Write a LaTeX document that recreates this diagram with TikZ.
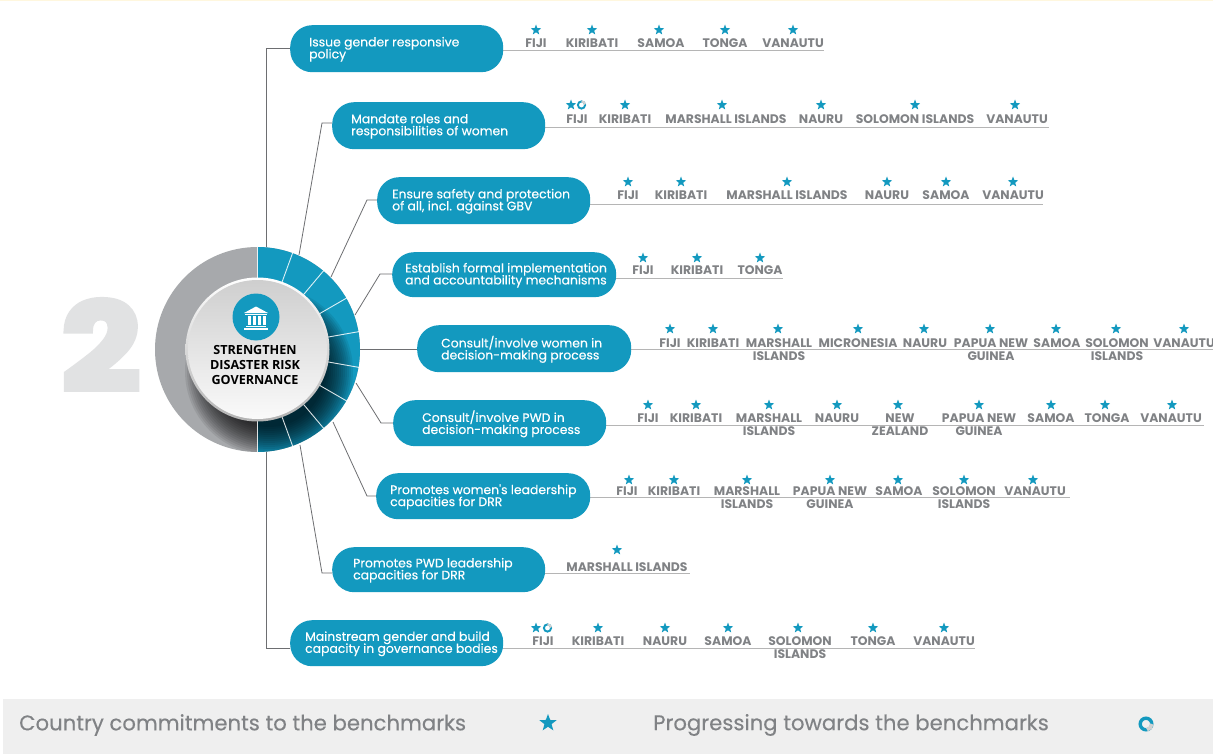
\documentclass[tikz,border=0pt]{standalone}
\usepackage{fontspec}
\setmainfont{Poppins}
\newfontfamily\ptextfont[FakeBold=0.25]{Poppins}
\newfontfamily\ctrfont{Open Sans}
\newfontfamily\bigfont[FakeBold=5]{Poppins Bold}
\usetikzlibrary{shapes.geometric}
\definecolor{tealb}{HTML}{1399BF}
\definecolor{ringg}{HTML}{A7A9AC}
\definecolor{lbl}{HTML}{808285}
\definecolor{conn}{HTML}{6D6E71}
\definecolor{rule}{HTML}{B5B5B5}
\definecolor{strip}{HTML}{EFEFEF}
\newcommand{\pillfont}{\ptextfont\fontsize{12.4}{12}\selectfont\setlength{\lineskiplimit}{-20pt}}
\newcommand{\ctryfont}{\bfseries\fontsize{12.4}{12.6}\selectfont\setlength{\lineskiplimit}{-20pt}}
\tikzset{
  x=1pt,y=1pt,
  pill/.style={fill=tealb,rounded corners=22pt,inner sep=0pt},
  pilltext/.style={text=white,font=\pillfont,align=left,inner sep=0pt,anchor=west},
  country/.style={text=lbl,font=\ctryfont,align=center,inner sep=0pt,anchor=north},
  starmark/.style={star,star points=5,star point ratio=2.4,fill=tealb,inner sep=0pt,minimum size=11pt},
  connector/.style={draw=conn,line width=.8pt},
  baseline rule/.style={draw=rule,line width=1pt},
  legendtext/.style={text=lbl,font=\ptextfont\fontsize{21.2}{24}\selectfont,inner sep=0pt,anchor=west},
}
\newcommand{\PillRow}[9]{%
  \coordinate (e#1) at (#8,-#9);
  \draw[baseline rule] (#3,-#9) -- (e#1);
  \node[pill,anchor=north west,minimum width={#3-#2},minimum height={#5-#4}] (p#1) at (#2,-#4) {};
  \node[pilltext] (t#1) at (#6,{-(#4+#5)/2-0.8}) {#7};
}
\newcommand{\Countries}[4]{%
  \foreach \lx/\sx/\nm [count=\i] in {#4} {
    \node[starmark] (s#1-\i) at (\sx,-#2) {};
    \node[country] (l#1-\i) at (\lx,{-(#3-5.6)}) {\rule{0pt}{10pt}\nm};
  }
}
\newcommand{\Progress}[5]{% x y radius width grey-start
  \draw[tealb,line width=#4pt] (#1,-#2) circle[radius=#3pt];
  \draw[black!18,line width=#4pt] ([shift={(#5:#3pt)}]#1,-#2) arc[start angle=#5,delta angle=-80,radius=#3pt];
}
\begin{document}
\begin{tikzpicture}
\useasboundingbox (0,0) rectangle (1213,-754);
\fill[white] (0,0) rectangle (1213,-754);
\fill[yellow!60!orange!12] (0,0) rectangle (1213,-1);

% big numeral
\node[inner sep=0pt] (num) at (101,-345) {\resizebox{78pt}{90pt}{\bigfont\textcolor[HTML]{E1E2E3}{2}}};

% hub anchor points
\coordinate (hub) at (257.5,-349.5);
\coordinate (h1) at (266,-247);
\coordinate (h2) at (299,-255);
\coordinate (h3) at (331,-277);
\coordinate (h4) at (355,-315);
\coordinate (h5) at (360,-349);
\coordinate (h6) at (356,-383);
\coordinate (h7) at (333,-422);
\coordinate (h8) at (300,-445);
\coordinate (h9) at (266,-452);
\coordinate (b1) at (266,-48);
\coordinate (b2) at (322,-123);
\coordinate (b3) at (367,-200);
\coordinate (b4) at (380,-274);
\coordinate (b6) at (381,-423);
\coordinate (b7) at (367,-496);
\coordinate (b8) at (322,-573);
\coordinate (b9) at (266,-648);

% rows
\PillRow{1}{290}{503}{25}{72}{309}{Issue gender responsive\\policy}{824}{51}
\PillRow{2}{332}{545}{102}{149}{351}{Mandate roles and\\responsibilities of women}{1049}{128}
\PillRow{3}{377}{590}{177}{224}{392}{Ensure safety and protection\\of all, incl. against GBV}{1043}{205}
\PillRow{4}{392}{616}{252}{297}{405}{Establish formal implementation\\and accountability mechanisms}{783}{278}
\PillRow{5}{417}{631}{325}{372}{441}{Consult/involve women in\\decision-making process}{1213}{349}
\PillRow{6}{393}{606}{400}{446}{422}{Consult/involve PWD in\\decision-making process}{1204}{425}
\PillRow{7}{376}{590}{473}{519}{390}{Promotes women's leadership\\capacities for DRR}{1070}{497}
\PillRow{8}{332}{545}{547}{592}{353}{Promotes PWD leadership\\capacities for DRR}{690}{573}
\PillRow{9}{290}{503}{620}{666}{305}{Mainstream gender and build\\capacity in governance bodies}{975}{648}

% connectors
\draw[connector] (h1) -- (b1) -- (p1.west |- b1);
\draw[connector] (h2) -- (b2) -- (p2.west |- b2);
\draw[connector] (h3) -- (b3) -- (p3.west |- b3);
\draw[connector] (h4) -- (b4) -- (p4.west |- b4);
\draw[connector] (h5) -- (p5.west |- h5);
\draw[connector] (h6) -- (b6) -- (p6.west |- b6);
\draw[connector] (h7) -- (b7) -- (p7.west |- b7);
\draw[connector] (h8) -- (b8) -- (p8.west |- b8);
\draw[connector] (h9) -- (b9) -- (p9.west |- b9);

% hub ring
\fill[ringg] (hub) circle[radius=102.5pt];
\fill[tealb] (257.5,-247) arc[start angle=90,end angle=-90,radius=102.5pt] -- cycle;
\begin{scope}
  \clip (hub) circle[radius=102.5pt];
  \foreach \r in {84,82,...,56} {
    \fill[black,opacity=.08] (269,-371) circle[radius=\r pt];
  }
\end{scope}
\foreach \a in {90,70,50,30,10,-10,-30,-50,-70,-90} {
  \draw[white,line width=.9pt,opacity=.85] (hub) ++(\a:70pt) -- ++(\a:33pt);
}
% centre disc
\shade[top color=white,bottom color=black!30] (hub) circle[radius=72pt];
\shade[top color=black!19,bottom color=black!2] (hub) circle[radius=69.5pt];
\fill[tealb] (256,-317) circle[radius=23.5pt];
% temple icon
\fill[white] (256,-306.5) -- (268,-313) -- (244,-313) -- cycle;
\fill[white] (245,-313.5) rectangle (267,-315);
\foreach \cx in {248,253,258,263} { \fill[white] (\cx,-315.5) rectangle (\cx+2.6,-325); }
\fill[white] (246,-325.5) rectangle (266,-327);
\fill[white] (244,-327.5) rectangle (268,-329.5);
\node[inner sep=0pt,align=center,text=black,font=\ctrfont\bfseries\fontsize{12.6}{15.3}\selectfont] (hubtext) at (255,-365) {STRENGTHEN\\DISASTER RISK\\GOVERNANCE};

% countries
\Countries{1}{30}{43}{536/536/FIJI,592/592/KIRIBATI,661/659/SAMOA,725/725/TONGA,793/793/VANAUTU}
\Countries{2}{105}{119}{577/571/FIJI,625/625/KIRIBATI,726/722/MARSHALL ISLANDS,821/821/NAURU,915/915/SOLOMON ISLANDS,1017/1015/VANAUTU}
\Countries{3}{182}{195}{628/628/FIJI,681/681/KIRIBATI,787/787/MARSHALL ISLANDS,887/887/NAURU,946/946/SAMOA,1013/1013/VANAUTU}
\Countries{4}{258}{270}{643/643/FIJI,697/697/KIRIBATI,760/760/TONGA}
\Countries{5}{329}{343}{670/670/FIJI,713/713/KIRIBATI,779/778/{MARSHALL\\ISLANDS},858/858/MICRONESIA,925/924/NAURU,991/990/{PAPUA NEW\\GUINEA},1057/1056/SAMOA,1117/1116/{SOLOMON\\ISLANDS},1184/1184/VANAUTU}
\Countries{6}{405}{418}{648/648/FIJI,696/696/KIRIBATI,769/769/{MARSHALL\\ISLANDS},837/837/NAURU,900/898/{NEW\\ZEALAND},979/979/{PAPUA NEW\\GUINEA},1051/1051/SAMOA,1107/1105/TONGA,1171/1172/VANAUTU}
\Countries{7}{480}{491}{627/629/FIJI,674/674/KIRIBATI,747/747/{MARSHALL\\ISLANDS},830/830/{PAPUA NEW\\GUINEA},899/898/SAMOA,964/964/{SOLOMON\\ISLANDS},1035/1033/VANAUTU}
\Countries{8}{550}{567}{627/617/MARSHALL ISLANDS}
\Countries{9}{628}{641}{543/536/FIJI,598/598/KIRIBATI,665/665/NAURU,728/728/SAMOA,800/798/{SOLOMON\\ISLANDS},873/873/TONGA,944/944/VANAUTU}
\Progress{581.5}{105}{3.6}{1.9}{90}
\Progress{547.5}{628}{3.6}{1.9}{90}

% legend
\fill[strip] (3,-699) rectangle (1213,-754);
\node[legendtext] (leg1) at (19,-725) {Country commitments to the benchmarks};
\node[starmark,minimum size=18pt] (legstar) at (548,-723) {};
\node[legendtext] (leg2) at (653,-725) {Progressing towards the benchmarks};
\Progress{1146}{724}{5.8}{3.4}{0}
\end{tikzpicture}
\end{document}
